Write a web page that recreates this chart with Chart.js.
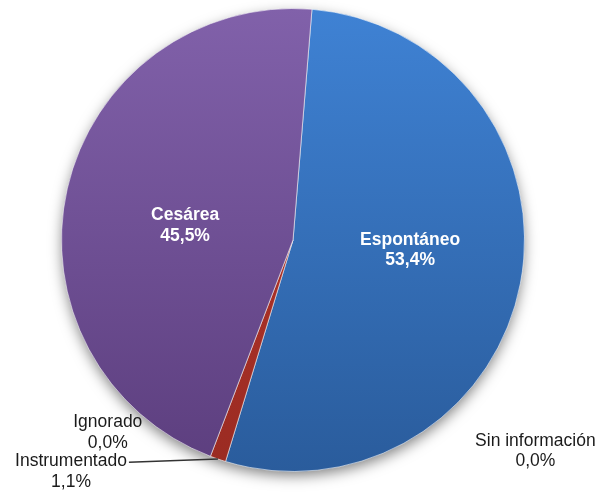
<!DOCTYPE html>
<html>
<head>
<meta charset="utf-8">
<script src="https://cdn.jsdelivr.net/npm/chart.js@4/dist/chart.umd.min.js"></script>
<style>
html,body{margin:0;padding:0;background:#fff;}
#wrap{width:600px;height:493px;position:relative;}
</style>
</head>
<body>
<div id="wrap"><canvas id="c" width="600" height="493"></canvas></div>
<script>
const categories = ['Espontáneo', 'Sin información', 'Instrumentado', 'Ignorado', 'Cesárea'];
const values = [53.4, 0.0, 1.1, 0.0, 45.5];

// label placement (offsets from pie centre, in radius units) and style
const labelPlacement = [
  {dx: 0.506, dy: 0.045, inside: true},
  {dx: 1.047, dy: 0.912, inside: false},
  {dx: -0.959, dy: 1.0, inside: false, leader: true},
  {dx: -0.80, dy: 0.832, inside: false},
  {dx: -0.466, dy: -0.062, inside: true}
];
const gradients = [
  ['#3f82d4', '#2a5c9c'],
  ['#9bbb59', '#7a9a3a'],
  ['#bd372d', '#9a2b22'],
  ['#4bacc6', '#2f8aa3'],
  ['#8161aa', '#5c3e7e']
];

function fmt(v){ return v.toFixed(1).replace('.', ',') + '%'; }

const shadowPlugin = {
  id: 'shadowPlugin',
  beforeDatasetsDraw(chart){
    const meta = chart.getDatasetMeta(0);
    const a = meta.data[0];
    if(!a) return;
    const ctx = chart.ctx;
    ctx.save();
    ctx.shadowColor = 'rgba(0,0,0,0.5)';
    ctx.shadowBlur = 14;
    ctx.shadowOffsetX = 0;
    ctx.shadowOffsetY = 5;
    ctx.fillStyle = '#666';
    ctx.beginPath();
    ctx.arc(a.x, a.y, a.outerRadius - 1, 0, Math.PI * 2);
    ctx.fill();
    ctx.restore();
  }
};

const labelPlugin = {
  id: 'labelPlugin',
  afterDatasetsDraw(chart){
    const meta = chart.getDatasetMeta(0);
    const ctx = chart.ctx;
    const ds = chart.data.datasets[0].data;
    const lh = 20.5;
    meta.data.forEach((arc, i) => {
      const p = labelPlacement[i];
      const r = arc.outerRadius;
      const cx = arc.x + p.dx * r;
      const cy = arc.y + p.dy * r;
      ctx.save();
      ctx.textAlign = 'center';
      ctx.textBaseline = 'middle';
      if(p.inside){
        ctx.font = 'bold 17.5px "Liberation Sans", Arial, sans-serif';
        ctx.fillStyle = '#ffffff';
      } else {
        ctx.font = '17.5px "Liberation Sans", Arial, sans-serif';
        ctx.fillStyle = '#1a1a1a';
      }
      const line1 = chart.data.labels[i];
      const line2 = fmt(ds[i]);
      ctx.fillText(line1, cx, cy - lh/2);
      ctx.fillText(line2, cx, cy + lh/2);
      if(p.leader){
        const w = ctx.measureText(line1).width;
        const mid = (arc.startAngle + arc.endAngle) / 2;
        const ex = arc.x + Math.cos(mid) * r;
        const ey = arc.y + Math.sin(mid) * r;
        ctx.strokeStyle = '#333';
        ctx.lineWidth = 1.5;
        ctx.beginPath();
        ctx.moveTo(cx + w/2 + 2, cy - lh/2 + 1);
        ctx.lineTo(ex, ey);
        ctx.stroke();
      }
      ctx.restore();
    });
  }
};

new Chart(document.getElementById('c'), {
  type: 'pie',
  data: {
    labels: categories,
    datasets: [{
      data: values,
      backgroundColor: (ctx) => {
        const chart = ctx.chart;
        const area = chart.chartArea;
        if(!area) return gradients[ctx.dataIndex][0];
        const g = chart.ctx.createLinearGradient(0, area.top, 0, area.bottom);
        g.addColorStop(0, gradients[ctx.dataIndex][0]);
        g.addColorStop(1, gradients[ctx.dataIndex][1]);
        return g;
      },
      borderColor: 'rgba(255,255,255,0.55)',
      borderWidth: (ctx) => (ctx.raw > 0 ? 1 : 0),
      hoverOffset: 0
    }]
  },
  options: {
    responsive: false,
    animation: false,
    rotation: 4.7,
    layout: { padding: { left: 61, right: 75, top: 8, bottom: 21 } },
    plugins: {
      legend: { display: false },
      tooltip: { enabled: false }
    },
    events: []
  },
  plugins: [shadowPlugin, labelPlugin]
});
</script>
</body>
</html>
